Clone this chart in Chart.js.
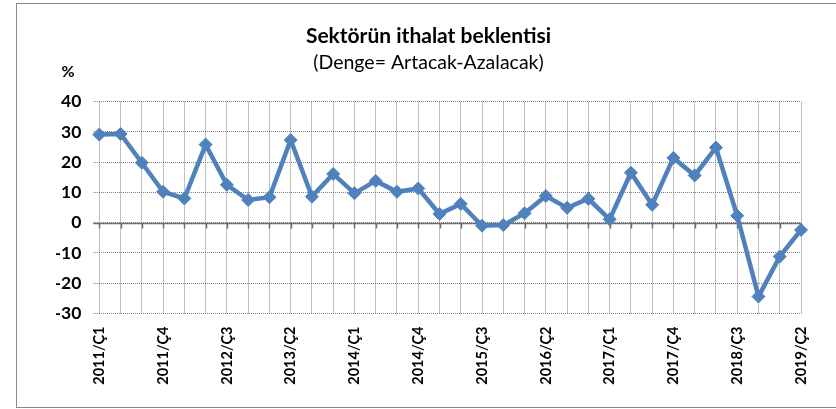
<!DOCTYPE html>
<html>
<head>
<meta charset="utf-8">
<script src="https://cdn.jsdelivr.net/npm/chart.js@4/dist/chart.umd.min.js"></script>
<style>
  html, body { margin: 0; padding: 0; background: #fff; }
  #wrap { width: 836px; height: 409px; }
</style>
</head>
<body>
<div id="wrap"><canvas id="c" width="836" height="409"></canvas></div>
<script>
const quarters = [
  "2011/Ç1","2011/Ç2","2011/Ç3","2011/Ç4",
  "2012/Ç1","2012/Ç2","2012/Ç3","2012/Ç4",
  "2013/Ç1","2013/Ç2","2013/Ç3","2013/Ç4",
  "2014/Ç1","2014/Ç2","2014/Ç3","2014/Ç4",
  "2015/Ç1","2015/Ç2","2015/Ç3","2015/Ç4",
  "2016/Ç1","2016/Ç2","2016/Ç3","2016/Ç4",
  "2017/Ç1","2017/Ç2","2017/Ç3","2017/Ç4",
  "2018/Ç1","2018/Ç2","2018/Ç3","2018/Ç4",
  "2019/Ç1","2019/Ç2"
];
const importExpectation = [
  29.1, 29.3, 19.8, 10.2, 8.0, 25.8, 12.5, 7.5, 8.4, 27.3,
  8.6, 16.1, 9.7, 13.8, 10.2, 11.3, 2.9, 6.2, -1.0, -0.8,
  3.1, 8.8, 4.9, 7.9, 1.1, 16.5, 5.9, 21.4, 15.6, 24.8,
  2.3, -24.4, -11.2, -2.4
];
const yTicks = [-30, -20, -10, 0, 10, 20, 30, 40];
const titleText = "Sektörün ithalat beklentisi";
const subtitleText = "(Denge= Artacak-Azalacak)";
const unitText = "%";

const FONT = "Lato, 'Liberation Sans', sans-serif";
const GRID = "#7f7f7f";

const decor = {
  id: 'decor',
  beforeDraw(chart) {
    const ctx = chart.ctx;
    ctx.save();
    ctx.strokeStyle = "#8a8a8a";
    ctx.lineWidth = 1;
    ctx.strokeRect(16.5, 3.5, 830, 404);
    ctx.restore();
  },
  beforeDatasetsDraw(chart) {
    const ctx = chart.ctx;
    const x = chart.scales.x, y = chart.scales.y;
    const y0 = Math.round(y.getPixelForValue(0)) + 0.5;
    ctx.save();
    ctx.strokeStyle = "#6f6f6f";
    ctx.lineWidth = 1.5;
    ctx.setLineDash([]);
    ctx.beginPath();
    ctx.moveTo(chart.chartArea.left - 6, y0);
    ctx.lineTo(chart.chartArea.right, y0);
    for (let i = 0; i < quarters.length; i++) {
      const px = Math.round(x.getPixelForValue(i)) + 0.5;
      ctx.moveTo(px, y0);
      ctx.lineTo(px, y0 + 5);
    }
    ctx.stroke();
    ctx.restore();
  },
  afterDraw(chart) {
    const ctx = chart.ctx;
    ctx.save();
    ctx.fillStyle = "#000";
    ctx.font = "bold 16px " + FONT;
    ctx.textAlign = "center";
    ctx.textBaseline = "middle";
    ctx.fillText(unitText, 68, 72);
    ctx.restore();
  }
};

new Chart(document.getElementById('c'), {
  type: 'line',
  data: {
    labels: quarters,
    datasets: [{
      data: importExpectation,
      borderColor: '#4F81BD',
      backgroundColor: '#4F81BD',
      borderWidth: 4.5,
      pointStyle: 'rectRot',
      pointRadius: 6.5,
      pointBorderWidth: 1,
      pointBackgroundColor: '#4F81BD',
      pointBorderColor: '#4F81BD',
      tension: 0,
      clip: false
    }]
  },
  options: {
    responsive: false,
    animation: false,
    devicePixelRatio: 1,
    layout: { padding: { left: 56, right: 35, top: 0, bottom: 0 } },
    plugins: {
      legend: { display: false },
      tooltip: { enabled: false },
      title: {
        display: true,
        text: titleText,
        color: '#000',
        font: { family: FONT, size: 21, weight: 'bold', lineHeight: 1.2 },
        padding: { top: 24, bottom: 2 }
      },
      subtitle: {
        display: true,
        text: subtitleText,
        color: '#000',
        font: { family: FONT, size: 19.5, weight: 'normal', lineHeight: 1.2 },
        padding: { top: 0, bottom: 27 }
      }
    },
    scales: {
      x: {
        type: 'category',
        offset: false,
        afterFit(s) { s.height = 95.5; },
        grid: { display: true, color: GRID, lineWidth: 1, drawTicks: false, drawOnChartArea: true, borderDash: [1, 1] },
        border: { display: false, dash: [1, 1] },
        ticks: {
          autoSkip: false,
          maxRotation: 90,
          minRotation: 90,
          padding: 13,
          color: '#000',
          font: { family: FONT, size: 14.5, weight: 'bold' },
          callback(v, i) { return i % 3 === 0 ? quarters[i] : ''; }
        }
      },
      y: {
        min: -30,
        max: 40,
        afterFit(s) { s.width = 43.3; },
        afterBuildTicks(s) { s.ticks = yTicks.map(v => ({ value: v })); },
        grid: { color: GRID, lineWidth: 1, drawTicks: true, tickLength: 6, tickColor: GRID, tickBorderDash: [1, 1], borderDash: [1, 1] },
        border: { display: false, dash: [1, 1] },
        ticks: {
          padding: 12,
          color: '#000',
          font: { family: FONT, size: 17.5, weight: 'bold' }
        }
      }
    }
  },
  plugins: [decor]
});
</script>
</body>
</html>
